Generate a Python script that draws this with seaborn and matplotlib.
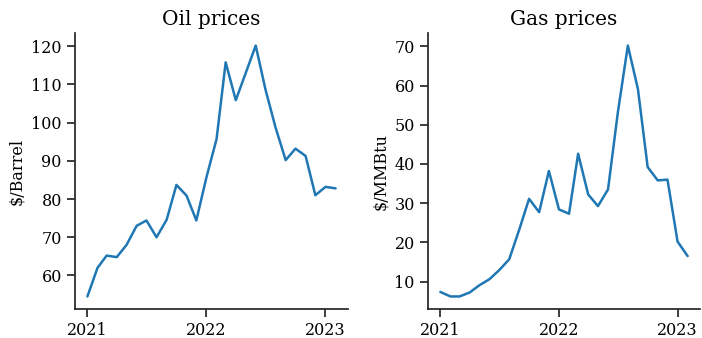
import matplotlib
matplotlib.use("Agg")
import matplotlib.pyplot as plt
import matplotlib.dates as mdates
import pandas as pd
import seaborn as sns

months = pd.date_range("2021-01-01", "2023-02-01", freq="MS")

oil_prices = [54.5, 62.0, 65.2, 64.8, 68.0, 73.0, 74.4, 70.0, 74.6, 83.7, 80.9, 74.4,
              85.7, 95.7, 115.8, 105.9, 112.9, 120.2, 108.7, 98.7, 90.2, 93.2, 91.3, 81.0,
              83.2, 82.8]
gas_prices = [7.35, 6.2, 6.2, 7.2, 9.05, 10.6, 12.9, 15.7, 23.3, 31.1, 27.7, 38.2,
              28.4, 27.3, 42.6, 32.2, 29.25, 33.5, 53.0, 70.2, 59.1, 39.2, 35.8, 36.0,
              20.2, 16.5]

titles = ["Oil prices", "Gas prices"]
ylabels = ["$/Barrel", "$/MMBtu"]

sns.set_theme(style="ticks")
plt.rcParams["font.family"] = ["DejaVu Serif"]
plt.rcParams["text.color"] = "black"
plt.rcParams["axes.labelcolor"] = "black"
plt.rcParams["xtick.labelcolor"] = "black"
plt.rcParams["ytick.labelcolor"] = "black"

df = pd.DataFrame({"date": months, "oil": oil_prices, "gas": gas_prices})

fig, axes = plt.subplots(1, 2, figsize=(7.02, 3.38), dpi=100)
for ax, col, title, ylabel in zip(axes, ["oil", "gas"], titles, ylabels):
    sns.lineplot(data=df, x="date", y=col, ax=ax, color="#1f77b4", linewidth=1.8)
    ax.set_title(title, fontsize=14.5)
    ax.set_ylabel(ylabel, fontsize=11.5)
    ax.set_xlabel("")
    ax.xaxis.set_major_locator(mdates.YearLocator())
    ax.xaxis.set_major_formatter(mdates.DateFormatter("%Y"))
    ax.tick_params(labelsize=11.5)
    sns.despine(ax=ax)

axes[0].set_position([75 / 702, 1 - 309 / 338, (348 - 75) / 702, (309 - 33) / 338])
axes[1].set_position([428 / 702, 1 - 309 / 338, (700 - 428) / 702, (309 - 33) / 338])

fig.savefig("out.png", dpi=100)
